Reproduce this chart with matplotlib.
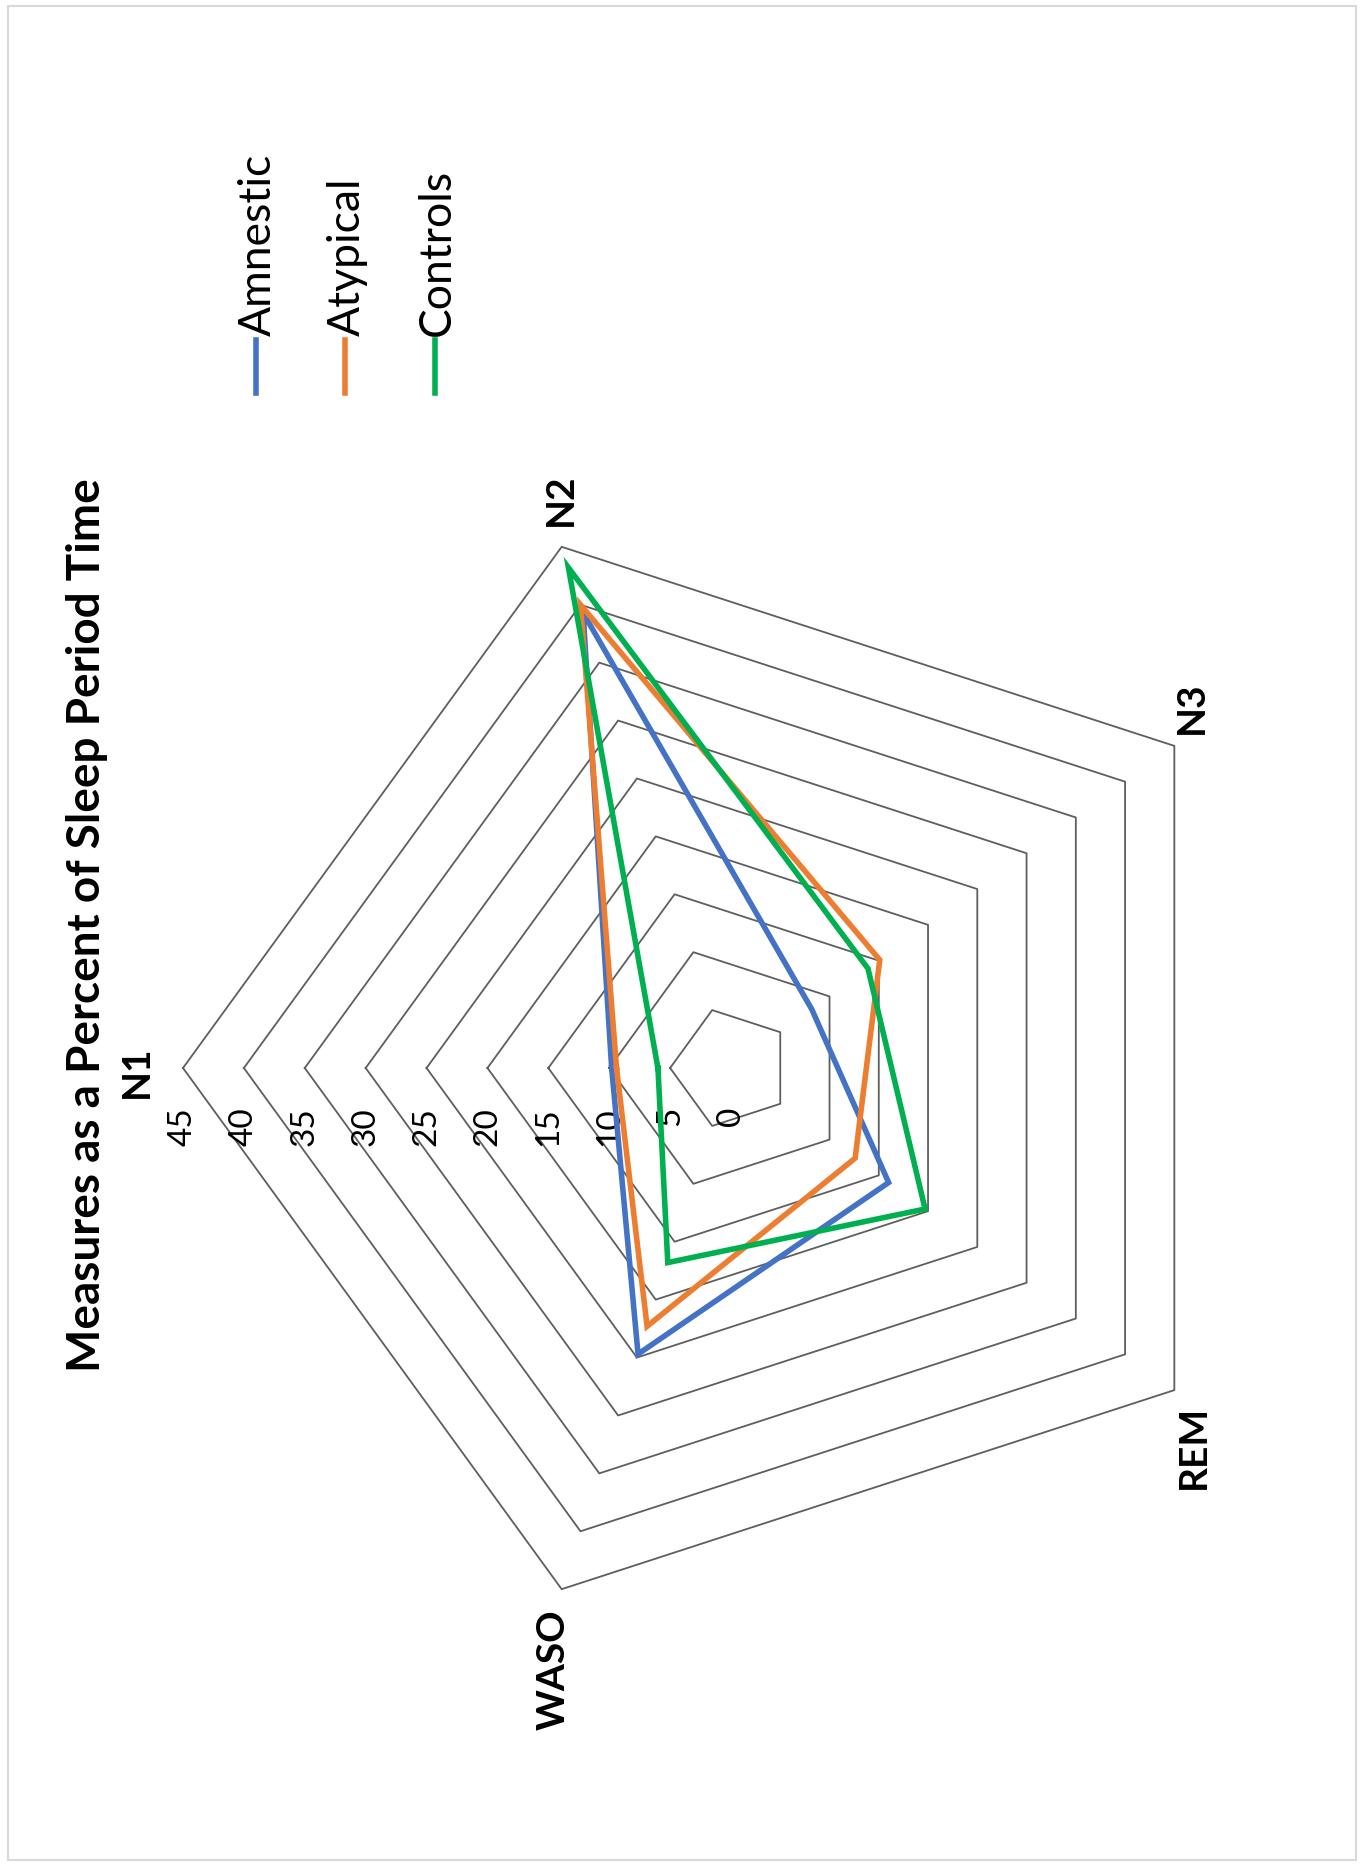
import numpy as np
import matplotlib
matplotlib.use("Agg")
import matplotlib.pyplot as plt
from matplotlib.patches import Rectangle

plt.rcParams['font.family'] = ['Lato', 'DejaVu Sans']

categories = ['N1', 'N2', 'N3', 'REM', 'WASO']
series_names = ['Amnestic', 'Atypical', 'Controls']
amnestic = [9.8, 39.3, 8.2, 16.0, 24.7]
atypical = [9.4, 40.0, 15.1, 12.6, 22.3]
controls = [6.0, 43.2, 13.9, 19.7, 16.8]
ring_ticks = [0, 5, 10, 15, 20, 25, 30, 35, 40, 45]

colors = ['#4472C4', '#ED7D31', '#00B050']
# nudges (data units) for the category labels, placed at r=48.5
label_nudge = [(-0.3, -0.3), (1.0, 0.5), (-1.4, 1.1), (-1.3, -2.6), (0.4, -3.3)]

W, H = 1362, 1866
fig = plt.figure(figsize=(W / 100, H / 100), dpi=100)
ax = fig.add_axes([0, 0, 1, 1])
cx, cy = 731, 1068          # radar centre, pixels from top-left
px = 548 / 45               # pixels per data unit
ax.set_xlim(-cx / px, (W - cx) / px)
ax.set_ylim(-(H - cy) / px, cy / px)
ax.axis('off')

# chart is rotated 90 deg: N1 points left, categories run clockwise
theta = np.pi - np.arange(len(categories)) * 2 * np.pi / len(categories)


def to_xy(vals):
    v = np.append(np.asarray(vals, float), vals[0])
    t = np.append(theta, theta[0])
    return v * np.cos(t), v * np.sin(t)


for r in ring_ticks[1:]:
    x, y = to_xy([r] * len(categories))
    ax.plot(x, y, color='#5e5e5e', lw=1.3, zorder=1)

for r in ring_ticks:
    ax.text(-r, -3.2, str(r), rotation=90, ha='center', va='top', fontsize=24, color='black')

for cat, t, (nx, ny) in zip(categories, theta, label_nudge):
    ax.text(48.5 * np.cos(t) + nx, 48.5 * np.sin(t) + ny, cat, rotation=90,
            ha='center', va='center', fontsize=28, fontweight='bold')

for vals, c in zip([amnestic, atypical, controls], colors):
    x, y = to_xy(vals)
    ax.plot(x, y, color=c, lw=4.0, solid_joinstyle='miter', zorder=3)

# title (rotated)
fig.text(87 / W, 1 - 925 / H, 'Measures as a Percent of Sleep Period Time', rotation=90,
         ha='center', va='center', fontsize=33, fontweight='bold')

# legend, drawn by hand because it is rotated too
for i, (name, c) in enumerate(zip(series_names, colors)):
    lx = (256 + i * 89.5) / W
    fig.add_artist(plt.Line2D([lx, lx], [1 - 393 / H, 1 - 340 / H], color=c, lw=4.0,
                              transform=fig.transFigure))
    fig.text(lx + 2 / W, 1 - 336 / H, name, rotation=90, ha='center', va='bottom', fontsize=32)

fig.add_artist(Rectangle((8 / W, 6 / H), 1 - 14 / W, 1 - 12 / H, transform=fig.transFigure,
                         fill=False, edgecolor='#d9d9d9', lw=1.5))

fig.savefig('out.png', dpi=100)
